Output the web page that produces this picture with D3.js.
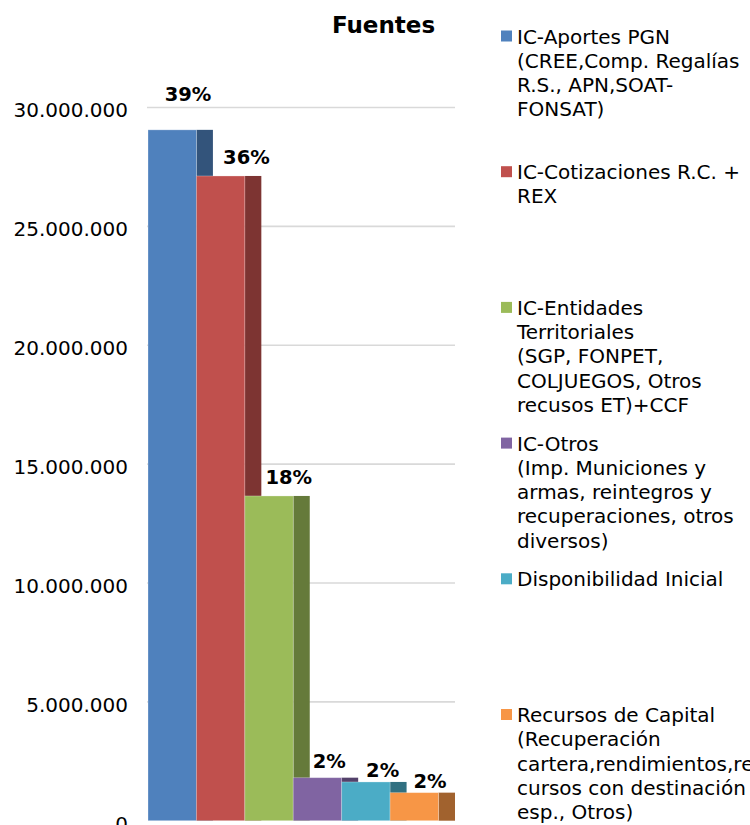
<!DOCTYPE html>
<html>
<head>
<meta charset="UTF-8" />
<title>Fuentes</title>
<script src="https://d3js.org/d3.v7.min.js"></script>
<style>
  body { margin: 0; background: #fff; }
  svg { display: block; font-family: "DejaVu Sans", Verdana, sans-serif; }
</style>
</head>
<body>
<div id="chart"><svg></svg></div>
<script>
// data
const categories = ['IC-Aportes PGN', 'IC-Cotizaciones', 'IC-Entidades', 'IC-Otros', 'Disponibilidad Inicial', 'Recursos de Capital'];
const values = [29060000, 27120000, 13660000, 1810000, 1630000, 1180000];
const yTicks = [0, 5000000, 10000000, 15000000, 20000000, 25000000, 30000000];
const colors = ['#4F81BD', '#C0504D', '#9BBB59', '#8064A2', '#4BACC6', '#F79646'];
const legendLines = [
  ['IC-Aportes PGN', '(CREE,Comp. Regalías', 'R.S., APN,SOAT-', 'FONSAT)'],
  ['IC-Cotizaciones R.C. +', 'REX'],
  ['IC-Entidades', 'Territoriales', '(SGP, FONPET,', 'COLJUEGOS, Otros', 'recusos ET)+CCF'],
  ['IC-Otros', '(Imp. Municiones y', 'armas, reintegros y', 'recuperaciones, otros', 'diversos)'],
  ['Disponibilidad Inicial'],
  ['Recursos de Capital', '(Recuperación', 'cartera,rendimientos,re', 'cursos con destinación', 'esp., Otros)']
];

// label nudges (Excel places them a bit irregularly)
const labelLift = [29, 12, 12, 10, 5, 5];
const labelShift = [-1, 9, 3, -5, 0, -1];

const width = 750, height = 825;
const svg = d3.select('svg').attr('width', width).attr('height', height);

const y = d3.scaleLinear().domain([0, 30000000]).range([820.7, 107.5]);
const x = d3.scaleBand().domain(categories).range([148, 438.5]).paddingInner(0).paddingOuter(0);
const depth = 16.5;

const locale = d3.formatLocale({decimal: ',', thousands: '.', grouping: [3], currency: ['', '']});
const fmt = locale.format(',d');
const pct = d3.format('.0%');
const total = d3.sum(values);

// gridlines
svg.append('g').selectAll('line')
  .data(yTicks.filter(d => d > 0))
  .join('line')
  .attr('x1', 147).attr('x2', 455)
  .attr('y1', d => y(d)).attr('y2', d => y(d))
  .attr('stroke', '#d9d9d9').attr('stroke-width', 1.6);

// y axis labels
const yAxis = d3.axisLeft(y).tickValues(yTicks).tickFormat(fmt).tickSize(0).tickPadding(19);
const ax = svg.append('g').attr('transform', 'translate(147,0)').call(yAxis);
ax.select('.domain').remove();
ax.selectAll('text').attr('font-size', 20).attr('fill', '#000')
  .attr('font-family', '"DejaVu Sans", Verdana, sans-serif').attr('dy', '0.47em');

// bars: front + darker side, drawn in order so the next bar covers the previous side
const bars = svg.append('g').selectAll('g')
  .data(categories.map((c, i) => ({c, v: values[i], col: colors[i], i})))
  .join('g');

bars.append('rect')
  .attr('x', d => x(d.c) + x.bandwidth())
  .attr('y', d => y(d.v))
  .attr('width', depth)
  .attr('height', d => y(0) - y(d.v))
  .attr('fill', d => d3.rgb(d.col).darker(1.2));

bars.append('rect')
  .attr('x', d => x(d.c))
  .attr('y', d => y(d.v))
  .attr('width', x.bandwidth())
  .attr('height', d => y(0) - y(d.v))
  .attr('fill', d => d.col)
  .attr('stroke', 'rgba(255,255,255,0.35)').attr('stroke-width', 0.8);

// percent labels
svg.append('g').selectAll('text')
  .data(categories.map((c, i) => ({c, v: values[i], i})))
  .join('text')
  .attr('x', d => x(d.c) + 41 + labelShift[d.i])
  .attr('y', d => y(d.v) - labelLift[d.i])
  .attr('text-anchor', 'middle')
  .attr('font-size', 19.5).attr('font-weight', 'bold')
  .text(d => pct(d.v / total));

// title
svg.append('text')
  .attr('x', 383.5).attr('y', 33)
  .attr('text-anchor', 'middle')
  .attr('font-size', 23).attr('font-weight', 'bold')
  .text('Fuentes');

// legend
const legend = svg.append('g').selectAll('g')
  .data(legendLines)
  .join('g')
  .attr('transform', (d, i) => `translate(501,${43.5 + i * 135.7})`);

legend.append('rect')
  .attr('x', 0).attr('y', -13)
  .attr('width', 11).attr('height', 11)
  .attr('fill', (d, i) => colors[i]);

legend.append('text')
  .attr('x', 16).attr('y', 0)
  .attr('font-size', 20).attr('fill', '#000')
  .selectAll('tspan')
  .data(d => d)
  .join('tspan')
  .attr('x', 16)
  .attr('dy', (d, j) => j === 0 ? 0 : 24.3)
  .text(d => d);
</script>
</body>
</html>
